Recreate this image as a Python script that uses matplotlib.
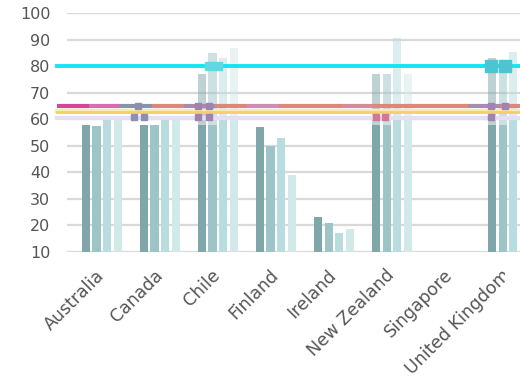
import numpy as np
import matplotlib
matplotlib.use("Agg")
import matplotlib.pyplot as plt
from matplotlib.transforms import Bbox, TransformedBbox

countries = ['Australia', 'Canada', 'Chile', 'Finland', 'Ireland',
             'New Zealand', 'Singapore', 'United Kingdom']

# four bar series per country (nan = no bar)
s1 = [58, 58, 58, 57, 23, 58, np.nan, 58]
s2 = [57.5, 58, 58, 50, 21, 58, np.nan, 58]
s3 = [60, 60, 60, 53, 17, 60, np.nan, 60]
s4 = [60, 60, 60, 39, 18.5, 60, np.nan, 60]

# faded taller bars drawn over some countries
o1 = [np.nan, np.nan, 77, np.nan, np.nan, 77, np.nan, 83]
o2 = [np.nan, np.nan, 85, np.nan, np.nan, 77, np.nan, 82.5]
o3 = [np.nan, np.nan, 83, np.nan, np.nan, 90.5, np.nan, 85.5]
o4 = [np.nan, np.nan, 87, np.nan, np.nan, 77, np.nan, 94.5]

ref_cyan = 80
ref_multi = 65
ref_yellow = 62.7
ref_lav = 60.5

multi_colors = ['#d6449c', '#d96aba', '#8b90ad', '#e0857a', '#a889b0', '#e0857a',
                '#d48ab8', '#e0857a', '#e0857a', '#d68a9a', '#e0857a', '#e0857a',
                '#e0857a', '#a98ab6', '#e0857a', '#e0857a']

bar_cols = ['#7fa6a8', '#9dc4c6', '#b9dcde', '#d2e9ea']

fig = plt.figure(figsize=(5.2, 3.81), dpi=100)
ax = fig.add_axes([67/520, 1-251.7/381, 470/520, (251.7-13.3)/381])

x = np.arange(len(countries))
pitch = 0.184
w = 0.14
offs = (np.arange(4) - 1.5) * pitch

# grid
for v in range(10, 101, 10):
    ax.axhline(v, color='#d9d9d9', lw=1.6, zorder=0)

for k, (s, o) in enumerate(zip([s1, s2, s3, s4], [o1, o2, o3, o4])):
    ob = np.array(o, dtype=float)
    ax.bar(x + offs[k], ob - 10, w, bottom=10, color=bar_cols[k], alpha=0.5, zorder=1)
    ax.bar(x + offs[k], np.array(s, dtype=float) - 10, w, bottom=10,
           color=bar_cols[k], zorder=2)

# reference lines, extending left past the plot
x0, x1 = -0.77, 7.5
ax.plot([x0, x1], [ref_lav, ref_lav], color='#e4e0f0', lw=3, zorder=3, clip_on=False)
ax.plot([x0, x1], [ref_yellow + 0.6, ref_yellow + 0.6], color='#fbeaa8', lw=3, zorder=3, clip_on=False)
ax.plot([x0, x1], [ref_yellow, ref_yellow], color='#f2d264', lw=2, zorder=3, clip_on=False)
edges = np.linspace(x0, x0 + len(multi_colors) * 0.545, len(multi_colors) + 1)
for i, c in enumerate(multi_colors):
    ax.plot([edges[i], edges[i + 1]], [ref_multi, ref_multi], color=c, lw=3,
            solid_capstyle='butt', zorder=4, clip_on=False)
ax.plot([x0, x1], [ref_cyan, ref_cyan], color='#12e6f5', lw=2.8, zorder=4, clip_on=False)

# small markers on the lines
ax.plot([0.62], [ref_multi], 's', ms=5, color='#8b90ad', zorder=5)
ax.plot([0.55, 0.72], [ref_lav + 0.3] * 2, 's', ms=4, color='#8b90ad', zorder=5)
ax.plot([1.65, 1.85], [ref_multi] * 2, 's', ms=5, color='#a083a8', zorder=5)
ax.plot([1.65, 1.85], [ref_lav + 0.3] * 2, 's', ms=4, color='#a083a8', zorder=5)
ax.plot([1.85, 2.0], [ref_cyan] * 2, 's', ms=6, color='#5ed8e3', zorder=5)
ax.plot([4.72, 4.88], [ref_lav + 0.3] * 2, 's', ms=4, color='#d5788f', zorder=5)
ax.plot([6.7, 6.95], [ref_cyan] * 2, 's', ms=8, color='#4fc3cf', zorder=5)
ax.plot([6.7, 6.95], [ref_multi] * 2, 's', ms=5, color='#a083b0', zorder=5)
ax.plot([6.7], [ref_lav + 0.3], 's', ms=4, color='#a083b0', zorder=5)

ax.set_xlim(-0.6, 7.5)
ax.set_ylim(10, 100)
ax.set_yticks(range(10, 101, 10))
ax.set_xticks(x)
labels = ax.set_xticklabels(countries, rotation=45, ha='right', va='center',
                            rotation_mode='anchor', fontsize=12.5)
ax.tick_params(length=0, colors='#555555')
ax.tick_params(axis='y', labelsize=11.5, pad=12)
ax.tick_params(axis='x', pad=15)
for sp in ax.spines.values():
    sp.set_visible(False)

# the last label is cut at the right like in the original
clip = TransformedBbox(Bbox([[0, 0], [505/520, 1]]), fig.transFigure)
labels[-1].set_clip_box(clip)
labels[-1].set_clip_on(True)

fig.savefig('out.png', dpi=100)
